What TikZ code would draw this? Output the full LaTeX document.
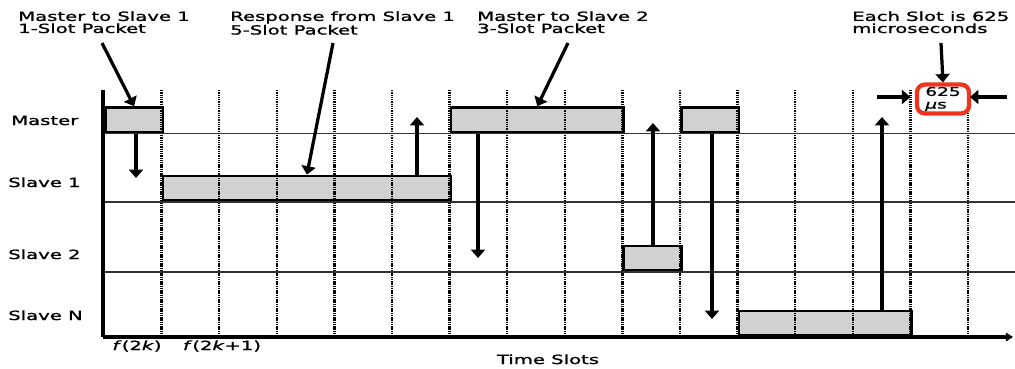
\documentclass[tikz,border=0pt]{standalone}
\usepackage{fontspec}
\setmainfont{DejaVu Sans}
\newfontfamily\slotfont[FakeStretch=1.55, FakeBold=1.3]{DejaVu Sans}
\usetikzlibrary{positioning, arrows.meta, calc}
\definecolor{hlred}{RGB}{238,52,30}

\begin{document}
\begin{tikzpicture}[x=0.025cm, y=-0.025cm,
    pkt/.style={rectangle, draw=black, line width=1.8pt, fill=black!18, minimum width=#1*1.44cm, minimum height=0.62cm, inner sep=0pt, anchor=south west},
    msg/.style={-{Triangle[width=10pt, length=6pt]}, line width=2.3pt, black},
    slotline/.style={line width=1.7pt, dash pattern=on 1pt off 0.6pt, black},
    rowline/.style={line width=1.1pt, black!80},
    axis/.style={line width=2.6pt, black},
    lbl/.style={font={\slotfont\fontsize{9}{9}\selectfont}, inner sep=0pt},
    note/.style={lbl, align=left, anchor=north west, font={\slotfont\fontsize{9}{8.6}\selectfont}},
    hl/.style={draw=hlred, line width=3pt, rounded corners=5.5pt, minimum width=1.3cm, minimum height=0.72cm, inner sep=0pt}
]
    \useasboundingbox (0,0) rectangle (1015,369);
    % packets, one slot = 57.6
    \node[pkt=1] (m1) at (104,133.5) {};
    \node[pkt=5] (s1) at (161.6,202) {};
    \node[pkt=3] (m2) at (449.6,133.5) {};
    \node[pkt=1] (s2) at (622.4,272) {};
    \node[pkt=1] (m3) at (680,133.5) {};
    \node[pkt=3] (sn) at (737.6,337) {};
    % slot boundaries and rows
    \foreach \i in {1,...,15}
        \draw[slotline] ({104+57.6*\i},90) -- ({104+57.6*\i},337);
    \foreach \y in {133.5,202,272}
        \draw[rowline] (103,\y) -- (1015,\y);
    \draw[axis] (103,90) -- (103,337);
    \draw[axis, -{Triangle[width=6pt, length=5pt]}] (103,337) -- (1013,337);
    % row labels
    \node[lbl, anchor=base west] (lm) at (11,125) {Master};
    \node[lbl, anchor=base west] (l1) at (8,187) {Slave 1};
    \node[lbl, anchor=base west] (l2) at (8,259) {Slave 2};
    \node[lbl, anchor=base west] (ln) at (8,320) {Slave N};
    % time axis labels
    \node[lbl, anchor=base] (f0) at (137,350) {\textit{f}(2\textit{k})};
    \node[lbl, anchor=base] (f1) at (222,350) {\textit{f}(2\textit{k}+1)};
    \node[lbl, anchor=base] (ts) at (548,364) {Time Slots};
    % poll / response
    \coordinate (d1) at (136,178);
    \draw[msg] (d1 |- m1.south) -- (d1);
    \coordinate (u1) at (417,117);
    \draw[msg] (u1 |- s1.north) -- (u1);
    \coordinate (d2) at (478,258);
    \draw[msg] (d2 |- m2.south) -- (d2);
    \coordinate (u2) at (653,123);
    \draw[msg] (u2 |- s2.north) -- (u2);
    \coordinate (d3) at (712,319);
    \draw[msg] (d3 |- m3.south) -- (d3);
    \coordinate (u3) at (882,117);
    \draw[msg] (u3 |- sn.north) -- (u3);
    % slot length
    \node[hl, align=left, font={\slotfont\fontsize{8.5}{9}\selectfont}] (us) at (943,99) {625\\\textit{µ}s};
    \coordinate (wl) at (877,97);
    \coordinate (sl) at (910.4,97);
    \coordinate (wr) at (1007,97);
    \coordinate (sr) at (970,97);
    \draw[msg] (wl) -- (sl);
    \draw[msg] (wr) -- (sr);
    % callouts
    \node[note] (t1) at (18,11) {Master to Slave 1\\1-Slot Packet};
    \node[note] (t2) at (230,11) {Response from Slave 1\\5-Slot Packet};
    \node[note] (t3) at (477,11) {Master to Slave 2\\3-Slot Packet};
    \node[note] (t4) at (852,11) {Each Slot is 625\\microseconds};
    \coordinate (a1) at (102,43);
    \coordinate (a2) at (333,43);
    \coordinate (a3) at (568,43);
    \coordinate (a4) at (941,43);
    \draw[msg] (a1) -- (m1.north);
    \draw[msg] (a2) -- (s1.north);
    \draw[msg] (a3) -- (m2.north);
    \draw[msg] (a4) -- (us.north);
\end{tikzpicture}
\end{document}
